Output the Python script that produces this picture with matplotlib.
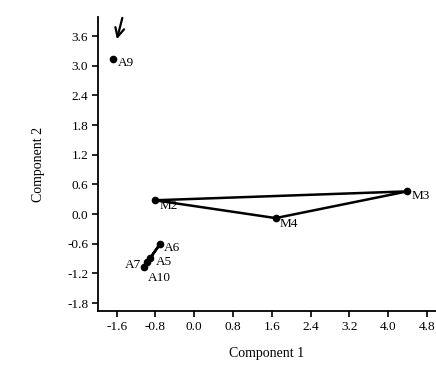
import matplotlib
matplotlib.use("Agg")
import matplotlib.pyplot as plt

plt.rcParams['font.family'] = ['Liberation Serif', 'DejaVu Serif']

# scores for each sample
m_names = ["M2", "M3", "M4"]
m_x = [-0.81, 4.40, 1.68]
m_y = [0.28, 0.46, -0.08]

a_names = ["A6", "A5", "A10", "A7"]
a_x = [-0.71, -0.91, -1.04, -0.97]
a_y = [-0.61, -0.89, -1.07, -0.97]

lone_names = ["A9"]
lone_x = [-1.67]
lone_y = [3.14]

x_ticks = [-1.6, -0.8, 0.0, 0.8, 1.6, 2.4, 3.2, 4.0, 4.8]
y_ticks = [-1.8, -1.2, -0.6, 0.0, 0.6, 1.2, 1.8, 2.4, 3.0, 3.6]

fig = plt.figure(figsize=(4.36, 3.66), dpi=100)
ax = fig.add_axes([0.2248, 0.150, 0.7752, 0.803])

# closed hulls
ax.plot(m_x + m_x[:1], m_y + m_y[:1], color="black", lw=1.8, zorder=2)
ax.plot(a_x + a_x[:1], a_y + a_y[:1], color="black", lw=1.8, zorder=2)

ax.plot(m_x, m_y, "o", color="black", ms=4.5, zorder=3)
ax.plot(a_x, a_y, "o", color="black", ms=4.5, zorder=3)
ax.plot(lone_x, lone_y, "o", color="black", ms=4.5, zorder=3)

offsets = {
    "A9": (3, -3), "M2": (3, -4), "M3": (3, -3), "M4": (3, -4),
    "A6": (3, -3), "A5": (4, -3), "A10": (3, -8), "A7": (-16, -2),
}
names = lone_names + m_names + a_names
xs = lone_x + m_x + a_x
ys = lone_y + m_y + a_y
for n, x, y in zip(names, xs, ys):
    ax.annotate(n, (x, y), xytext=offsets[n], textcoords="offset points",
                fontsize=9.5, ha="left", va="center")

# hand-drawn marker arrow
ax.annotate("", xy=(-1.61, 3.48), xytext=(-1.47, 4.02),
            arrowprops=dict(arrowstyle="->", color="black", lw=1.6,
                            mutation_scale=16),
            annotation_clip=False)

ax.set_xlim(-1.986, 4.99)
ax.set_ylim(-1.96, 3.98)
ax.set_xticks(x_ticks)
ax.set_yticks(y_ticks)
ax.set_xticklabels([f"{t:.1f}" for t in x_ticks])
ax.set_yticklabels([f"{t:.1f}" for t in y_ticks])
ax.tick_params(labelsize=9.5, length=4, width=1.2, direction="out", pad=3)

for side in ["top", "right"]:
    ax.spines[side].set_visible(False)
for side in ["left", "bottom"]:
    ax.spines[side].set_linewidth(1.3)

ax.set_xlabel("Component 1", fontsize=10, labelpad=10)
ax.set_ylabel("Component 2", fontsize=10, labelpad=16)

fig.savefig("out.png", dpi=100)
